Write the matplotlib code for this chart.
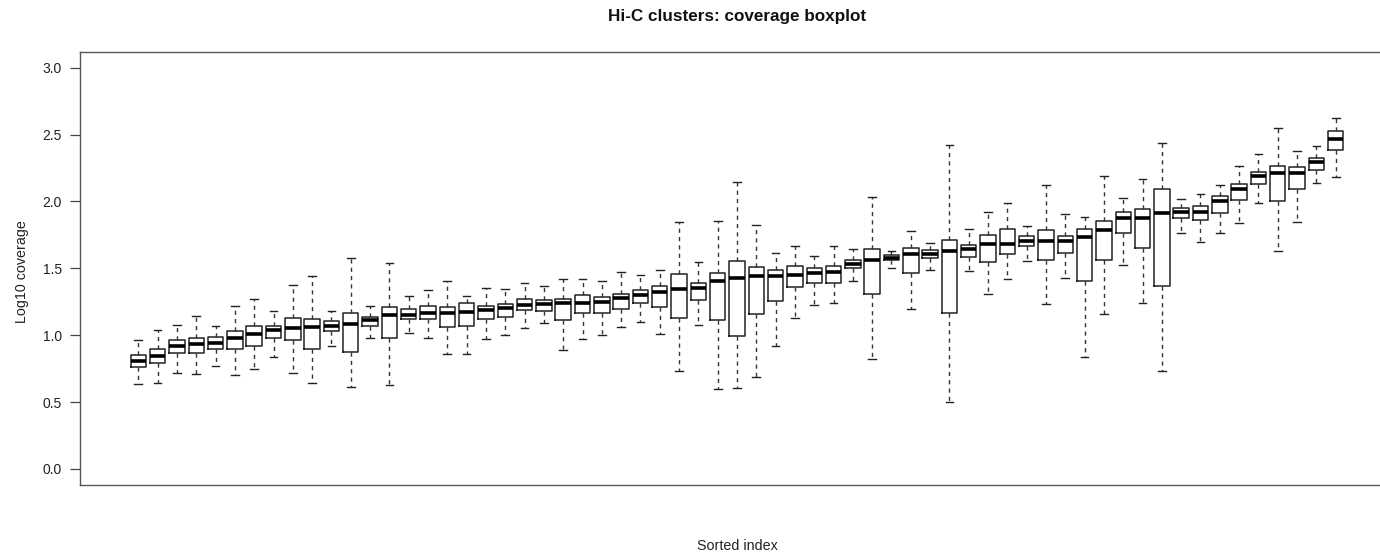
import matplotlib
matplotlib.use("Agg")
import matplotlib.pyplot as plt

plt.rcParams['font.family'] = ['Liberation Sans', 'DejaVu Sans']

# Per-box statistics (log10 coverage), sorted index 1..63
whisker_low = [0.634, 0.639, 0.721, 0.708, 0.770, 0.703, 0.746, 0.840, 0.721, 0.644,
               0.917, 0.616, 0.977, 0.626, 1.019, 0.979, 0.858, 0.860, 0.969, 1.004,
               1.057, 1.091, 0.893, 0.969, 1.002, 1.061, 1.096, 1.012, 0.733, 1.076,
               0.597, 0.606, 0.689, 0.920, 1.131, 1.223, 1.240, 1.404, 0.825, 1.501,
               1.193, 1.486, 0.502, 1.477, 1.310, 1.417, 1.554, 1.230, 1.429, 0.838,
               1.161, 1.524, 1.243, 0.733, 1.767, 1.700, 1.764, 1.840, 1.991, 1.626,
               1.847, 2.138, 2.185]
q1 = [0.763, 0.790, 0.865, 0.870, 0.895, 0.900, 0.922, 0.977, 0.964, 0.900,
      1.029, 0.877, 1.069, 0.979, 1.119, 1.119, 1.061, 1.069, 1.119, 1.136,
      1.186, 1.181, 1.116, 1.163, 1.168, 1.193, 1.238, 1.213, 1.128, 1.260,
      1.113, 0.997, 1.161, 1.255, 1.362, 1.387, 1.387, 1.504, 1.310, 1.559,
      1.464, 1.576, 1.168, 1.586, 1.546, 1.606, 1.665, 1.561, 1.616, 1.404,
      1.566, 1.762, 1.653, 1.367, 1.877, 1.859, 1.917, 2.013, 2.128, 2.001,
      2.093, 2.237, 2.386]
median = [0.805, 0.848, 0.920, 0.935, 0.940, 0.979, 1.012, 1.042, 1.054, 1.058,
          1.069, 1.086, 1.111, 1.148, 1.148, 1.168, 1.168, 1.173, 1.188, 1.201,
          1.228, 1.233, 1.238, 1.243, 1.245, 1.277, 1.298, 1.320, 1.342, 1.350,
          1.404, 1.429, 1.442, 1.442, 1.452, 1.462, 1.471, 1.534, 1.566, 1.579,
          1.608, 1.605, 1.633, 1.646, 1.685, 1.685, 1.703, 1.703, 1.708, 1.732,
          1.790, 1.877, 1.879, 1.911, 1.919, 1.925, 2.001, 2.090, 2.192, 2.210,
          2.212, 2.292, 2.466]
q3 = [0.850, 0.895, 0.962, 0.977, 0.987, 1.034, 1.071, 1.069, 1.128, 1.122,
      1.106, 1.168, 1.139, 1.213, 1.193, 1.218, 1.211, 1.238, 1.218, 1.236,
      1.268, 1.265, 1.273, 1.303, 1.288, 1.307, 1.337, 1.370, 1.459, 1.389,
      1.464, 1.556, 1.511, 1.491, 1.516, 1.504, 1.521, 1.566, 1.646, 1.601,
      1.655, 1.635, 1.710, 1.676, 1.751, 1.795, 1.743, 1.790, 1.745, 1.795,
      1.852, 1.924, 1.941, 2.093, 1.949, 1.967, 2.038, 2.133, 2.222, 2.267,
      2.257, 2.327, 2.526]
whisker_high = [0.964, 1.039, 1.076, 1.141, 1.066, 1.221, 1.273, 1.183, 1.377, 1.443,
                1.183, 1.581, 1.218, 1.541, 1.293, 1.335, 1.402, 1.290, 1.350, 1.347,
                1.392, 1.365, 1.417, 1.417, 1.404, 1.474, 1.447, 1.486, 1.847, 1.551,
                1.857, 2.148, 1.827, 1.618, 1.665, 1.591, 1.665, 1.646, 2.034, 1.633,
                1.777, 1.690, 2.424, 1.795, 1.919, 1.986, 1.820, 2.125, 1.907, 1.881,
                2.192, 2.026, 2.168, 2.436, 2.021, 2.057, 2.125, 2.269, 2.356, 2.550,
                2.376, 2.418, 2.627]
y_ticks = [0.0, 0.5, 1.0, 1.5, 2.0, 2.5, 3.0]
y_tick_labels = ["0.0", "0.5", "1.0", "1.5", "2.0", "2.5", "3.0"]

title = "Hi-C clusters: coverage boxplot"
x_label = "Sorted index"
y_label = "Log10 coverage"

W, H = 1380, 557
fig = plt.figure(figsize=(W / 100, H / 100), dpi=100)
ax = fig.add_axes([80 / W, 1 - 485 / H, 1314 / W, (485 - 51.7) / H])

stats = []
for lo, a, m, b, hi in zip(whisker_low, q1, median, q3, whisker_high):
    stats.append(dict(whislo=lo, q1=a, med=m, q3=b, whishi=hi, fliers=[]))

positions = list(range(1, len(stats) + 1))
ax.bxp(stats, positions=positions, widths=0.8, showfliers=False,
       patch_artist=False,
       boxprops=dict(color='#222222', linewidth=1.1),
       medianprops=dict(color='black', linewidth=2.6, solid_capstyle='butt'),
       whiskerprops=dict(color='#333333', linewidth=1.0, linestyle=(0, (3, 3))),
       capprops=dict(color='#222222', linewidth=1.0),
       capwidths=0.4)

ax.set_xlim(-2.02, 66.02)
ax.set_ylim(-0.12, 3.12)
ax.set_xticks([])
ax.set_yticks(y_ticks)
ax.set_yticklabels(y_tick_labels, fontsize=10, color='#222222')
ax.tick_params(axis='y', length=7, width=0.9, color='#444444', pad=6)
for s in ax.spines.values():
    s.set_color('#555555')
    s.set_linewidth(1.0)

fig.text(737 / W, 1 - 16.5 / H, title, ha='center', va='center',
         fontsize=12.3, fontweight='bold', color='#111111')
fig.text(737 / W, 1 - 546 / H, x_label, ha='center', va='center',
         fontsize=10.3, color='#222222')
fig.text(22 / W, 1 - 272 / H, y_label, ha='center', va='center',
         rotation=90, fontsize=10.3, color='#222222')

fig.savefig("out.png", dpi=100)
